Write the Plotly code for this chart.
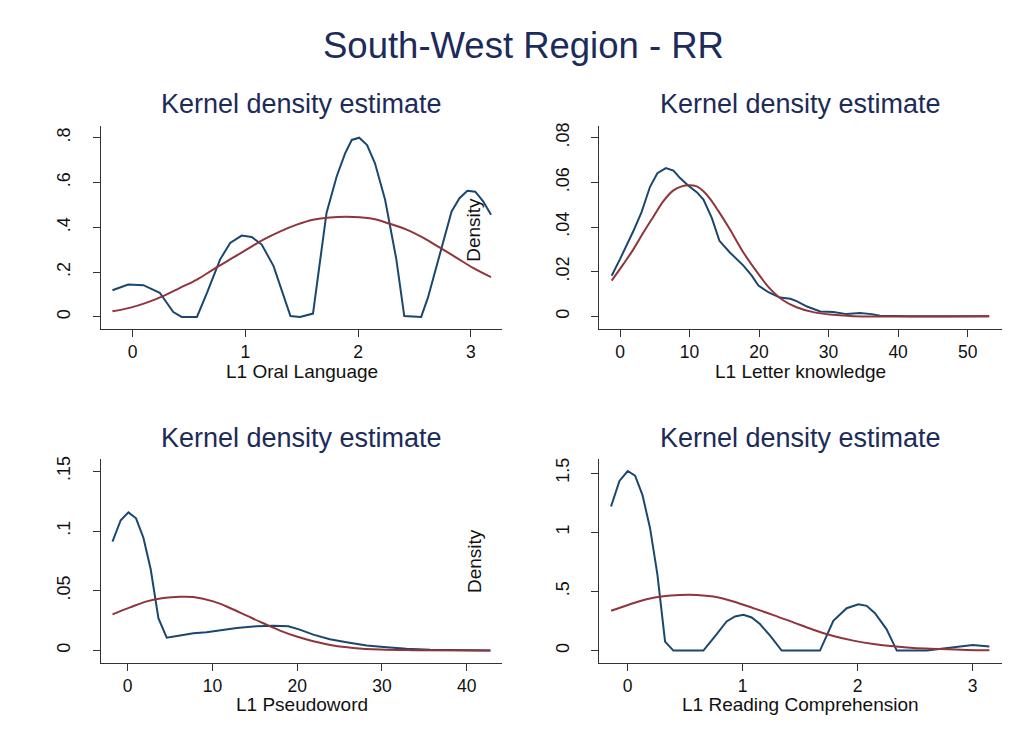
import plotly.graph_objects as go

W, H = 1034, 753

# ---------------- data ----------------
oral_x = [-0.18, -0.04, 0.095, 0.24, 0.36, 0.435, 0.57, 0.66, 0.775, 0.865, 0.967, 1.056, 1.145,
          1.25, 1.4, 1.485, 1.6, 1.72, 1.81, 1.885, 1.944, 2.01, 2.08, 2.15, 2.24, 2.34, 2.41,
          2.56, 2.62, 2.73, 2.83, 2.9, 2.97, 3.04, 3.11, 3.18]
oral_kde = [0.119, 0.145, 0.142, 0.108, 0.022, 0.0, 0.0, 0.108, 0.256, 0.33, 0.363, 0.357, 0.323,
            0.227, 0.004, 0.0, 0.015, 0.464, 0.627, 0.73, 0.79, 0.80, 0.767, 0.686, 0.523, 0.256,
            0.004, 0.0, 0.086, 0.286, 0.471, 0.53, 0.563, 0.559, 0.516, 0.456]
oral_nx = [-0.18, -0.02, 0.124, 0.27, 0.42, 0.57, 0.716, 0.86, 1.01, 1.16, 1.31, 1.456, 1.6, 1.75,
           1.96, 2.14, 2.28, 2.43, 2.58, 2.73, 2.875, 3.02, 3.18]
oral_norm = [0.025, 0.0415, 0.064, 0.093, 0.13, 0.167, 0.212, 0.256, 0.30, 0.345, 0.382, 0.412,
             0.434, 0.444, 0.446, 0.437, 0.416, 0.39, 0.353, 0.308, 0.264, 0.219, 0.178]

letter_x = [-1.2, 0, 1.92, 3.1, 4.3, 5.37, 6.6, 7.68, 8.64, 9.84, 11.04, 12.0, 13.2, 14.3, 15.8,
            17.75, 18.95, 19.9, 21.35, 23.0, 24.5, 25.4, 26.9, 28.8, 30.7, 32.6, 34.5, 36.2,
            37.4, 41.7, 53.1]
letter_kde = [0.0182, 0.0256, 0.0382, 0.0467, 0.0579, 0.0641, 0.0664, 0.0653, 0.0619, 0.0585,
              0.0556, 0.0523, 0.0441, 0.0338, 0.0286, 0.0227, 0.0182, 0.0138, 0.0108, 0.0084,
              0.0079, 0.0068, 0.0044, 0.0022, 0.0019, 0.001, 0.0015, 0.001, 0.0003, 0.0001, 0.0]
letter_nx = [-1.2, 0.48, 1.92, 3.36, 4.8, 6.24, 7.68, 8.88, 9.84, 11.04, 12.0, 12.96, 14.16, 15.8,
             17.75, 19.9, 21.6, 23.5, 25.4, 27.8, 30.7, 33.6, 53.1]
letter_norm = [0.016, 0.0234, 0.030, 0.0375, 0.0446, 0.0516, 0.0564, 0.0582, 0.0587, 0.0582,
               0.056, 0.0526, 0.0471, 0.039, 0.0286, 0.019, 0.0123, 0.0071, 0.0041, 0.0019,
               0.0007, 0.0001, 0.0]

pseudo_x = [-1.8, -0.83, 0.08, 0.98, 1.85, 2.71, 3.62, 4.6, 6.17, 7.75, 9.3, 10.9, 12.86, 15.2,
            17.2, 18.95, 20.3, 21.9, 23.85, 25.8, 28.2, 30.55, 32.9, 35.7, 39.6, 42.8]
pseudo_kde = [0.0911, 0.109, 0.1156, 0.1106, 0.0944, 0.068, 0.027, 0.0108, 0.0125, 0.0144,
              0.0153, 0.0172, 0.0189, 0.0203, 0.0208, 0.0203, 0.0175, 0.0133, 0.0094, 0.0069,
              0.0042, 0.0028, 0.0014, 0.0006, 0.0, 0.0]
pseudo_nx = [-1.8, 0.28, 2.24, 4.2, 6.17, 7.75, 10.1, 12.07, 14.04, 16.0, 17.97, 19.94, 21.9,
             24.26, 26.6, 29.8, 33.7, 42.8]
pseudo_norm = [0.0303, 0.0361, 0.0411, 0.0439, 0.045, 0.0447, 0.0411, 0.0356, 0.0292, 0.0228,
               0.0167, 0.0117, 0.0078, 0.0042, 0.0022, 0.0008, 0.0003, 0.0]

read_x = [-0.145, -0.072, 0.0, 0.064, 0.128, 0.194, 0.258, 0.325, 0.397, 0.658, 0.774, 0.86,
          0.933, 1.006, 1.078, 1.15, 1.238, 1.339, 1.672, 1.788, 1.904, 2.006, 2.078, 2.15,
          2.25, 2.34, 2.6, 2.716, 2.86, 3.0, 3.145]
read_kde = [1.217, 1.433, 1.517, 1.478, 1.315, 1.036, 0.644, 0.076, 0.0, 0.0, 0.14, 0.246,
            0.288, 0.302, 0.28, 0.224, 0.126, 0.0, 0.0, 0.252, 0.358, 0.392, 0.378, 0.316,
            0.182, 0.0, 0.0, 0.014, 0.036, 0.048, 0.034]
read_nx = [-0.145, 0.02, 0.165, 0.31, 0.455, 0.6, 0.745, 0.919, 1.093, 1.267, 1.44, 1.614,
           1.788, 1.962, 2.136, 2.31, 2.484, 2.716, 2.95, 3.145]
read_norm = [0.336, 0.392, 0.434, 0.459, 0.47, 0.47, 0.456, 0.414, 0.358, 0.3, 0.238, 0.176,
             0.123, 0.084, 0.056, 0.036, 0.022, 0.014, 0.006, 0.003]

# tick labels
oral_xt = [0, 1, 2, 3]
oral_yt = [0, 0.2, 0.4, 0.6, 0.8]
oral_ytxt = ["0", ".2", ".4", ".6", ".8"]
letter_xt = [0, 10, 20, 30, 40, 50]
letter_yt = [0, 0.02, 0.04, 0.06, 0.08]
letter_ytxt = ["0", ".02", ".04", ".06", ".08"]
pseudo_xt = [0, 10, 20, 30, 40]
pseudo_yt = [0, 0.05, 0.1, 0.15]
pseudo_ytxt = ["0", ".05", ".1", ".15"]
read_xt = [0, 1, 2, 3]
read_yt = [0, 0.5, 1, 1.5]
read_ytxt = ["0", ".5", "1", "1.5"]

x_titles = ["L1 Oral Language", "L1 Letter knowledge", "L1 Pseudoword", "L1 Reading Comprehension"]
sub_title = "Kernel density estimate"
main_title = "South-West Region - RR"

# ---------------- styling ----------------
BLUE = "#1a476f"
RED = "#90353b"
NAVY = "#1c2b59"
AX = "#333333"
FONT = "Liberation Sans, Arial, sans-serif"

panels = [
    dict(x=oral_x, k=oral_kde, nx=oral_nx, n=oral_norm, xt=oral_xt, yt=oral_yt, ytxt=oral_ytxt,
         xr=[-0.284, 3.28], yr=[-0.055, 0.852], xd=[100.7, 502.3], yd=[122.7, 327.0]),
    dict(x=letter_x, k=letter_kde, nx=letter_nx, n=letter_norm, xt=letter_xt, yt=letter_yt,
         ytxt=letter_ytxt, xr=[-2.98, 54.9], yr=[-0.00578, 0.0852], xd=[599.3, 1001.7], yd=[122.7, 327.0]),
    dict(x=pseudo_x, k=pseudo_kde, nx=pseudo_nx, n=pseudo_norm, xt=pseudo_xt, yt=pseudo_yt,
         ytxt=pseudo_ytxt, xr=[-3.19, 44.2], yr=[-0.01025, 0.1606], xd=[100.7, 502.3], yd=[457.0, 662.3]),
    dict(x=read_x, k=read_kde, nx=read_nx, n=read_norm, xt=read_xt, yt=read_yt, ytxt=read_ytxt,
         xr=[-0.247, 3.252], yr=[-0.103, 1.622], xd=[599.3, 1001.7], yd=[457.0, 662.3]),
]

fig = go.Figure()
layout = {}
annotations = []
for i, p in enumerate(panels, start=1):
    xa = "x" if i == 1 else f"x{i}"
    ya = "y" if i == 1 else f"y{i}"
    fig.add_trace(go.Scatter(x=p["x"], y=p["k"], mode="lines", xaxis=xa, yaxis=ya,
                             line=dict(color=BLUE, width=2), showlegend=False, hoverinfo="skip"))
    fig.add_trace(go.Scatter(x=p["nx"], y=p["n"], mode="lines", xaxis=xa, yaxis=ya,
                             line=dict(color=RED, width=2, shape="spline"), showlegend=False,
                             hoverinfo="skip"))
    xkey = "xaxis" if i == 1 else f"xaxis{i}"
    ykey = "yaxis" if i == 1 else f"yaxis{i}"
    xd = [p["xd"][0] / W, p["xd"][1] / W]
    yd = [1 - p["yd"][1] / H, 1 - p["yd"][0] / H]
    layout[xkey] = dict(domain=xd, range=p["xr"], anchor=ya, tickvals=p["xt"],
                        showgrid=False, zeroline=False, showline=True, linecolor=AX, linewidth=1.4,
                        ticks="outside", ticklen=7, tickwidth=1.2, tickcolor=AX,
                        ticklabelstandoff=0,
                        tickfont=dict(family=FONT, size=17.5, color="#111111"))
    layout[ykey] = dict(domain=yd, range=p["yr"], anchor=xa, tickvals=p["yt"], ticktext=p["ytxt"],
                        tickangle=-90, showgrid=False, zeroline=False, showline=True, linecolor=AX,
                        linewidth=1.4, ticks="outside", ticklen=7, tickwidth=1.2, tickcolor=AX,
                        ticklabelstandoff=15,
                        tickfont=dict(family=FONT, size=18, color="#111111"))
    cx = (xd[0] + xd[1]) / 2
    top_px = 101 if i <= 2 else 436
    xt_px = 369.5 if i <= 2 else 704.5
    annotations.append(dict(text=sub_title, x=cx, y=1 - top_px / H, xref="paper", yref="paper",
                            showarrow=False, xanchor="center", yanchor="middle",
                            font=dict(family=FONT, size=27, color=NAVY)))
    annotations.append(dict(text=x_titles[i - 1], x=cx, y=1 - xt_px / H, xref="paper", yref="paper",
                            showarrow=False, xanchor="center", yanchor="middle",
                            font=dict(family=FONT, size=19, color="#111111")))

annotations.append(dict(text=main_title, x=523.5 / W, y=1 - 42 / H, xref="paper", yref="paper",
                        showarrow=False, xanchor="center", yanchor="middle",
                        font=dict(family=FONT, size=36.5, color=NAVY)))
for ypx in (227, 560):
    annotations.append(dict(text="Density", x=474 / W, y=1 - ypx / H, xref="paper", yref="paper",
                            showarrow=False, textangle=-90, xanchor="center", yanchor="middle",
                            font=dict(family=FONT, size=19, color="#111111")))

fig.update_layout(width=W, height=H, margin=dict(l=0, r=0, t=0, b=0),
                  paper_bgcolor="white", plot_bgcolor="white", annotations=annotations, **layout)

fig.write_html("out.html")
